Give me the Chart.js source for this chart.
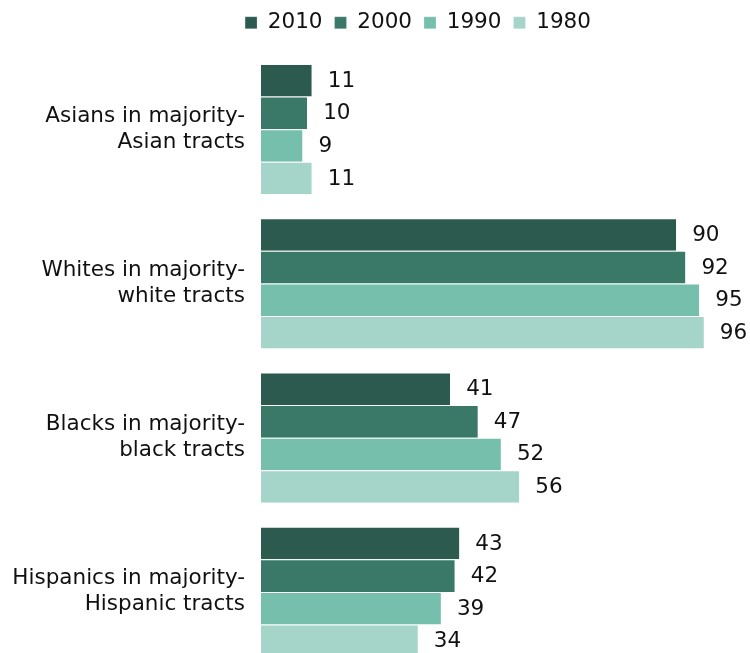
<!DOCTYPE html>
<html>
<head>
<meta charset="utf-8">
<script src="https://cdn.jsdelivr.net/npm/chart.js@4"></script>
<style>
    html, body { margin: 0; padding: 0; background: #fff; overflow: hidden; }
</style>
</head>
<body>
<canvas id="grafica" width="750" height="670"></canvas>
<script>

// datos
const categorias = [
    ['Asians in majority-', 'Asian tracts'],
    ['Whites in majority-', 'white tracts'],
    ['Blacks in majority-', 'black tracts'],
    ['Hispanics in majority-', 'Hispanic tracts']
];
const anios = ['2010', '2000', '1990', '1980'];
const valores2010 = [11, 90, 41, 43];
const valores2000 = [10, 92, 47, 42];
const valores1990 = [9, 95, 52, 39];
const valores1980 = [11, 96, 56, 34];
const colores = ['#2d5a4f', '#3a7868', '#76bfad', '#a5d4c8'];

const fuente = 'DejaVu Sans';
const tam = 21.5;

// etiquetas al final de cada barra
const etiquetasBarras = {
    id: 'etiquetasBarras',
    afterDatasetsDraw(chart) {
        const ctx = chart.ctx;
        ctx.save();
        ctx.font = tam + 'px "' + fuente + '"';
        ctx.fillStyle = '#111';
        ctx.textAlign = 'left';
        ctx.textBaseline = 'middle';
        chart.data.datasets.forEach((ds, i) => {
            const meta = chart.getDatasetMeta(i);
            meta.data.forEach((bar, j) => {
                ctx.fillText(ds.data[j], bar.x + 16, bar.y + 1);
            });
        });
        ctx.restore();
    }
};

// mover la leyenda un poco a la derecha como en el original
const moverLeyenda = {
    id: 'moverLeyenda',
    afterLayout(chart) {
        if (chart.legend) {
            chart.legend.left = 86;
        }
    }
};

const series = [valores2010, valores2000, valores1990, valores1980];

const data = {
    labels: categorias,
    datasets: series.map((valores, i) => ({
        label: anios[i],
        data: valores,
        backgroundColor: colores[i],
        borderColor: '#ffffff',
        borderWidth: { top: 1, right: 0, bottom: 0, left: 0 },
        borderSkipped: false,
        barPercentage: 1,
        categoryPercentage: 0.845
    }))
};

new Chart('grafica', {
    type: 'bar',
    data: data,
    plugins: [etiquetasBarras, moverLeyenda],
    options: {
        indexAxis: 'y',
        responsive: false,
        animation: false,
        layout: {
            padding: { left: 0, right: 0, top: 0, bottom: 1 }
        },
        plugins: {
            legend: {
                position: 'top',
                labels: {
                    boxWidth: 12,
                    boxHeight: 12,
                    padding: 12,
                    color: '#111',
                    font: { family: fuente, size: tam }
                }
            },
            tooltip: { enabled: false }
        },
        scales: {
            x: {
                position: 'top',
                min: 0,
                max: 106,
                grid: { display: false },
                border: { display: false },
                ticks: { display: false },
                afterFit: (scale) => { scale.height = 8.5; }
            },
            y: {
                grid: { display: false },
                border: { display: false },
                afterFit: (scale) => {
                    scale.width = 261;
                    scale.paddingTop = 0;
                    scale.paddingBottom = 0;
                },
                ticks: {
                    padding: 8,
                    color: '#111',
                    font: { family: fuente, size: tam, lineHeight: 1.21 }
                }
            }
        }
    }
});
</script>
</body>
</html>
